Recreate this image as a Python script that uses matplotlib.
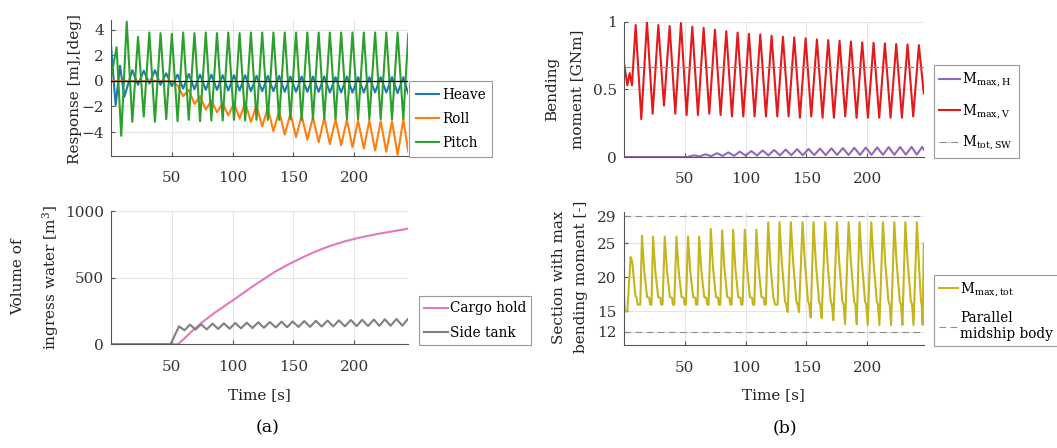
import numpy as np
import matplotlib
matplotlib.use("Agg")
import matplotlib.pyplot as plt

plt.rcParams['font.family'] = 'DejaVu Serif'
plt.rcParams['mathtext.fontset'] = 'dejavuserif'
plt.rcParams['font.size'] = 11

# ---- ship motions (peaks / troughs of each wave cycle) ----
t_wave = [13.0, 17.6, 22.3, 27.0, 31.6, 36.2, 40.8, 45.5, 50.1, 54.8,
          59.4, 64.0, 68.7, 73.3, 78.0, 82.6, 87.2, 91.9, 96.5, 101.2,
          105.8, 110.4, 115.1, 119.7, 124.4, 129.0, 133.6, 138.3, 142.9, 147.6,
          152.2, 156.8, 161.5, 166.1, 170.8, 175.4, 180.0, 184.7, 189.3, 194.0,
          198.6, 203.2, 207.9, 212.5, 217.2, 221.8, 226.4, 231.1, 235.7, 240.4,
          244.5]

pitch_t0 = [0, 4.7, 8.5]
pitch_v0 = [0.2, 2.65, -4.3]
pitch_v = [4.65, -3.2, 3.45, -2.8, 3.8, -3.2, 3.75, -3.0, 3.7, -3.15,
           3.8, -3.05, 3.75, -3.15, 3.8, -3.1, 3.75, -3.1, 3.8, -3.05,
           3.75, -3.1, 3.8, -3.05, 3.8, -3.05, 3.8, -3.05, 3.8, -3.0,
           3.8, -3.05, 3.8, -3.0, 3.8, -3.0, 3.8, -3.0, 3.8, -3.0,
           3.8, -3.0, 3.8, -3.0, 3.8, -3.0, 3.8, -3.0, 3.8, -3.0,
           3.7]

heave_t0 = [0, 3.9, 7.5, 11.0]
heave_v0 = [2.9, -1.9, 1.2, -1.25]
heave_v = [0.85, -0.3, 0.8, -0.2, 0.85, -0.3, 0.6, -0.4, 0.5,
           -0.6, 0.55, -0.65, 0.5, -0.7, 0.5, -0.7, 0.45, -0.75, 0.45,
           -0.75, 0.45, -0.8, 0.4, -0.8, 0.4, -0.8, 0.4, -0.85, 0.35,
           -0.85, 0.35, -0.85, 0.35, -0.85, 0.35, -0.9, 0.3, -0.9, 0.35,
           -0.9, 0.3, -0.9, 0.3, -0.9, 0.3, -0.9, 0.3, -0.95, 0.3,
           -1.0]

roll_v = [0.0, -0.35, -1.2, -0.7, -1.8, -1.2, -2.25, -1.55, -2.45, -1.75,
          -2.7, -1.75, -2.95, -1.7, -3.2, -1.9, -3.55, -2.1, -3.95, -2.35,
          -4.2, -2.55, -4.4, -2.7, -4.6, -2.85, -4.8, -2.9, -4.95, -3.0,
          -5.05, -3.05, -5.2, -3.1, -5.3, -3.1, -5.45, -3.15, -5.55, -3.15,
          -5.8, -3.0, -5.55]

# ---- bending moments [GNm] ----
mv_t = [0, 3.0, 4.9, 6.8,
        9.8, 14.45, 19.1, 23.75, 28.4, 33.05, 37.7, 42.35, 47.0, 51.65,
        56.3, 60.95, 65.6, 70.25, 74.9, 79.55, 84.2, 88.85, 93.5, 98.15,
        102.8, 107.45, 112.1, 116.75, 121.4, 126.05, 130.7, 135.35, 140.0, 144.65,
        149.3, 153.95, 158.6, 163.25, 167.9, 172.55, 177.2, 181.85, 186.5, 191.15,
        195.8, 200.45, 205.1, 209.75, 214.4, 219.05, 223.7, 228.35, 233.0, 237.65,
        242.3, 246.3]
mv_v = [0.71, 0.53, 0.62, 0.53,
        0.975, 0.28, 1.0, 0.32, 0.975, 0.38, 0.968, 0.32, 0.99, 0.31,
        0.963, 0.31, 0.955, 0.32, 0.94, 0.31, 0.93, 0.30, 0.92, 0.30,
        0.91, 0.30, 0.906, 0.30, 0.896, 0.30, 0.889, 0.30, 0.884, 0.29,
        0.877, 0.30, 0.869, 0.29, 0.864, 0.29, 0.859, 0.30, 0.854, 0.29,
        0.847, 0.29, 0.844, 0.29, 0.84, 0.29, 0.835, 0.29, 0.832, 0.30,
        0.827, 0.47]

mh_t = [0, 52.0, 57.7, 62.4, 67.1, 71.8, 76.5, 81.2, 85.9, 90.6,
        95.3, 100.0, 104.7, 109.4, 114.1, 118.8, 123.5, 128.2, 132.9, 137.6,
        142.3, 147.0, 151.7, 156.4, 161.1, 165.8, 170.5, 175.2, 179.9, 184.6,
        189.3, 194.0, 198.7, 203.4, 208.1, 212.8, 217.5, 222.2, 226.9, 231.6,
        236.3, 240.6, 245.0, 246.3]
mh_v = [0, 0, 0.012, 0.004, 0.02, 0.006, 0.028, 0.008, 0.034, 0.009,
        0.04, 0.01, 0.044, 0.011, 0.048, 0.012, 0.052, 0.012, 0.055, 0.013,
        0.058, 0.013, 0.06, 0.014, 0.062, 0.014, 0.064, 0.015, 0.066, 0.015,
        0.068, 0.015, 0.07, 0.016, 0.071, 0.016, 0.073, 0.016, 0.074, 0.017,
        0.075, 0.017, 0.075, 0.055]

m_sw = 0.665

# ---- ingress water [m3] ----
cargo_t = [0, 55, 60, 65, 70, 75, 80, 85, 90, 95, 100, 105, 110, 115, 120,
           125, 130, 135, 140, 145, 150, 155, 160, 165, 170, 175, 180, 185,
           190, 195, 200, 205, 210, 215, 220, 225, 230, 235, 240, 245]
cargo_v = [0, 0, 40, 85, 125, 165, 200, 235, 265, 298, 328, 360, 392, 425, 455,
           485, 515, 545, 570, 595, 618, 640, 662, 683, 702, 720, 737, 752,
           766, 779, 790, 801, 811, 820, 829, 837, 845, 853, 860, 870]

side_t = [0, 49.0, 56.0, 60.5, 65.0, 69.5, 74.1, 78.8, 83.5, 88.2, 92.9,
          97.6, 102.3, 107.0, 111.7, 116.4, 121.1, 125.8, 130.7, 135.5, 140.3,
          144.9, 149.4, 154.2, 159.0, 163.8, 168.5, 173.3, 178.1, 182.8, 187.4,
          192.4, 197.3, 202.0, 206.6, 211.4, 216.2, 220.7, 225.2, 230.0, 234.8,
          239.6, 244.4]
side_v = [0, 0, 135, 105, 148, 110, 150, 112, 155, 115, 157,
          117, 160, 120, 162, 122, 165, 124, 167, 126, 170,
          128, 172, 130, 174, 131, 176, 133, 178, 134, 180,
          135, 182, 136, 184, 137, 186, 138, 188, 139, 190,
          140, 192]

# ---- section with max bending moment ----
section_t = [0, 1.0, 3.0, 5.7, 7.0, 9.6, 10.6, 11.4, 13.6,
             15.0, 16.8, 19.2, 21.0, 21.6, 22.8,
             24.1, 25.9, 28.3, 30.1, 30.7, 31.9,
             33.7, 35.5, 37.9, 39.7, 40.3, 41.5,
             43.3, 45.1, 47.5, 49.3, 49.9, 51.1,
             52.8, 54.6, 57.0, 58.8, 59.4, 60.6,
             61.9, 63.7, 66.1, 67.9, 68.5, 69.7,
             71.5, 73.3, 75.7, 77.5, 78.1, 79.3,
             80.8, 82.6, 85.0, 86.8, 87.4, 88.6,
             89.8, 91.6, 94.0, 95.8, 96.4, 97.6,
             99.4, 101.2, 103.6, 105.4, 106.0, 107.2,
             108.9, 110.7, 113.1, 114.9, 115.5, 116.7,
             118.6, 120.4, 122.8, 124.3, 126.4,
             127.9, 129.7, 132.4, 133.4, 134.6,
             137.2, 139.0, 141.7, 142.7, 143.9,
             146.8, 148.6, 151.3, 152.3, 153.5,
             155.8, 157.6, 160.3, 161.3, 162.5,
             165.4, 167.2, 169.9, 170.9, 172.1,
             175.0, 176.8, 179.5, 180.5, 181.7,
             184.6, 186.4, 189.1, 190.1, 191.3,
             193.6, 195.4, 198.1, 199.1, 200.3,
             203.2, 205.0, 207.7, 208.7, 209.9,
             212.8, 214.6, 217.3, 218.3, 219.5,
             222.1, 223.9, 226.6, 227.6, 228.8,
             231.2, 233.0, 235.7, 236.7, 237.9,
             240.7, 242.2, 244.0, 244.6, 245.4, 246.3]
section_v = [18.0, 15.0, 15.0, 23.0, 22.3, 17.3, 17.0, 16.0, 16.0,
             26.1, 21.0, 17.1, 17.0, 16.0, 16.0,
             26.0, 21.0, 17.1, 17.0, 16.0, 16.0,
             26.0, 21.0, 17.1, 17.0, 16.0, 16.0,
             26.0, 21.0, 17.1, 17.0, 16.0, 16.0,
             26.0, 21.0, 17.1, 17.0, 16.0, 16.0,
             26.0, 21.0, 17.1, 17.0, 16.0, 16.0,
             27.1, 21.5, 17.1, 17.0, 16.0, 16.0,
             26.9, 21.5, 17.1, 17.0, 16.0, 16.0,
             27.0, 21.5, 17.1, 17.0, 16.0, 16.0,
             27.0, 21.5, 17.1, 17.0, 16.0, 16.0,
             27.0, 21.5, 17.1, 17.0, 16.0, 16.0,
             28.1, 22.0, 17.1, 16.0, 16.0,
             28.1, 22.5, 16.5, 16.0, 14.9,
             28.1, 22.5, 16.5, 16.0, 14.9,
             28.1, 22.5, 16.5, 16.0, 14.1,
             28.1, 22.5, 16.5, 16.0, 14.0,
             28.1, 22.5, 16.5, 16.0, 13.7,
             28.1, 22.5, 16.5, 16.0, 13.1,
             28.1, 22.5, 16.5, 16.0, 13.1,
             28.1, 22.5, 16.5, 16.0, 13.0,
             28.1, 22.5, 16.5, 16.0, 13.0,
             28.1, 22.5, 16.5, 16.0, 13.0,
             28.1, 22.5, 16.5, 16.0, 13.0,
             28.1, 22.5, 16.5, 16.0, 13.0,
             28.1, 22.5, 16.5, 16.0, 13.0, 25.0]
midship = [12, 29]

time_ticks = [50, 100, 150, 200]

W, H = 1057, 448
fig = plt.figure(figsize=(W / 100, H / 100), dpi=100)


def box(x0, y0, x1, y1):
    return [x0 / W, 1 - y1 / H, (x1 - x0) / W, (y1 - y0) / H]


def style(ax, xmax, ylim, yticks, yticklabels=None):
    ax.set_xlim(0, xmax)
    ax.set_ylim(*ylim)
    ax.set_xticks(time_ticks)
    ax.set_yticks(yticks)
    if yticklabels is not None:
        ax.set_yticklabels(yticklabels)
    ax.grid(True, color='#e4e4e4', lw=0.8)
    ax.set_axisbelow(True)
    for s in ('top', 'right'):
        ax.spines[s].set_visible(False)
    for s in ('left', 'bottom'):
        ax.spines[s].set_color('#555555')
        ax.spines[s].set_linewidth(0.8)
    ax.tick_params(direction='in', length=3, color='#555555', labelcolor='#333333')
    ax.tick_params(axis='x', pad=11)
    ax.tick_params(axis='y', pad=5)


def legend(ax, x, y, **kw):
    opts = dict(handlelength=1.7, handletextpad=0.2, borderpad=0.5, labelspacing=0.75)
    opts.update(kw)
    leg = ax.legend(loc='lower left', bbox_to_anchor=(x, y), borderaxespad=0,
                    fancybox=False, edgecolor='#9a9a9a', framealpha=1,
                    fontsize=9.8, **opts)
    leg.get_frame().set_linewidth(0.8)
    return leg


LW = 1.5

# (a) top: motions
ax1 = fig.add_axes(box(110.9, 20.4, 408.3, 155.6))
ax1.plot(np.concatenate([heave_t0, t_wave[1:]]), np.concatenate([heave_v0, heave_v]),
         color='#1f77b4', lw=LW, label='Heave')
ax1.plot([0] + t_wave[8:], roll_v[:1] + roll_v, color='#ff7f0e', lw=LW, label='Roll')
ax1.plot(pitch_t0 + t_wave, pitch_v0 + pitch_v, color='#2ca02c', lw=LW, label='Pitch')
ax1.axhline(0, color='black', lw=0.9, zorder=3)
style(ax1, 244.5, (-5.85, 4.75), [-4, -2, 0, 2, 4])
legend(ax1, 1.003, -0.01)

# (a) bottom: ingress water
ax2 = fig.add_axes(box(110.9, 211.0, 408.3, 344.3))
ax2.plot(cargo_t, cargo_v, color='#e377c2', lw=LW, label='Cargo hold')
ax2.plot(side_t, side_v, color='#7f7f7f', lw=LW, label='Side tank')
style(ax2, 244.5, (0, 1000), [0, 500, 1000])
legend(ax2, 1.036, -0.005, handletextpad=0.15, borderpad=0.4)

# (b) top: bending moments
ax3 = fig.add_axes(box(623.7, 21.7, 924.0, 157.0))
ax3.plot(mh_t, mh_v, color='#9467bd', lw=LW, label=r'M$_\mathregular{max,H}$')
ax3.plot(mv_t, mv_v, color='#e31a1c', lw=LW, label=r'M$_\mathregular{max,V}$')
ax3.axhline(m_sw, color='#8c8c8c', lw=0.8, ls='-.', label=r'M$_\mathregular{tot,SW}$')
style(ax3, 246.5, (0, 1.0), [0, 0.5, 1], ['0', '0.5', '1'])
legend(ax3, 1.033, -0.005, labelspacing=0.95, handlelength=1.5, borderpad=0.4)

# (b) bottom: section with max moment
ax4 = fig.add_axes(box(623.7, 212.0, 924.0, 345.4))
ax4.plot(section_t, section_v, color='#c4b51c', lw=LW, label=r'M$_\mathregular{max,tot}$')
for k, m in enumerate(midship):
    ax4.axhline(m, color='#8c8c8c', lw=0.8, ls=(0, (6, 4)),
                label='Parallel\nmidship body' if k == 0 else None)
style(ax4, 246.5, (10, 29.6), [12, 15, 20, 25, 29])
legend(ax4, 1.033, -0.005, handlelength=1.4, borderpad=0.35, labelspacing=0.9)

# axis titles
lab = dict(rotation=90, ha='center', va='center', multialignment='center', color='#222222')
fig.text(75 / W, 1 - 89 / H, 'Response [m],[deg]', **lab)
fig.text(36 / W, 1 - 277 / H, 'Volume of\ningress water [m$^3$]', linespacing=2.0, **lab)
fig.text(565 / W, 1 - 89 / H, 'Bending\nmoment [GNm]', linespacing=2.0, **lab)
fig.text(570 / W, 1 - 277 / H, 'Section with max\nbending moment [-]', linespacing=1.75, **lab)

fig.text(259.6 / W, 1 - 395 / H, 'Time [s]', ha='center', va='center', color='#222222')
fig.text(773.8 / W, 1 - 395 / H, 'Time [s]', ha='center', va='center', color='#222222')
fig.text(268 / W, 1 - 428 / H, '(a)', ha='center', va='center', fontsize=12.5)
fig.text(785 / W, 1 - 428 / H, '(b)', ha='center', va='center', fontsize=12.5)

fig.savefig('out.png', dpi=100)
